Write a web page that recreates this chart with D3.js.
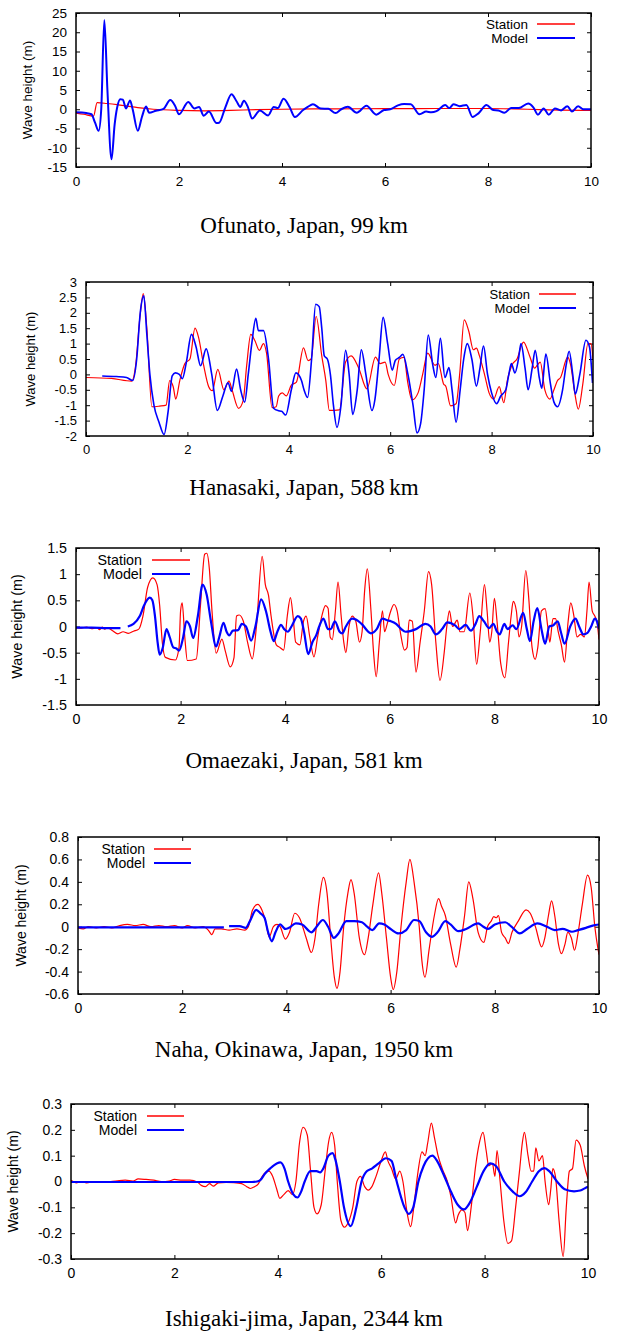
<!DOCTYPE html>
<html>
<head>
<meta charset="utf-8">
<script src="https://cdn.jsdelivr.net/npm/d3@7"></script>
<style>
  body { margin: 0; background: #fff; }
  svg text { font-family: "Liberation Sans", Arial, sans-serif; fill: #000; }
  .title { font-family: "Liberation Serif", "Times New Roman", serif; }
</style>
</head>
<body>
<svg id="chart" width="619" height="1341"></svg>
<script>
/* Tsunami wave heights: station records vs model, five tide gauges */

const titles = [
    'Ofunato, Japan, 99\u2009km',
    'Hanasaki, Japan, 588\u2009km',
    'Omaezaki, Japan, 581\u2009km',
    'Naha, Okinawa, Japan, 1950\u2009km',
    'Ishigaki-jima, Japan, 2344\u2009km'
];
const seriesNames = ['Station', 'Model'];
const xTicks = [0, 2, 4, 6, 8, 10];

const ofunatoTicks = [-15, -10, -5, 0, 5, 10, 15, 20, 25];
const hanasakiTicks = [-2, -1.5, -1, -0.5, 0, 0.5, 1, 1.5, 2, 2.5, 3];
const omaezakiTicks = [-1.5, -1, -0.5, 0, 0.5, 1, 1.5];
const nahaTicks = [-0.6, -0.4, -0.2, 0, 0.2, 0.4, 0.6, 0.8];
const ishigakiTicks = [-0.3, -0.2, -0.1, 0, 0.1, 0.2, 0.3];

// [time, wave height]; null = gap in record
const ofunatoStation = [[0,-1.0],[0.15,-1.3],[0.34,-1.8],[0.41,1.7],[0.6,1.5],[0.8,1.2],[1.0,0.8],[1.2,0.4],[1.5,0.0],[2.0,-0.3],[2.5,-0.4],[3.0,-0.3],[3.5,-0.1],[4.0,0.0],[5.0,0.1],[6.0,0.15],[7.0,0.2],[8.0,0.2],[8.5,0.1],[9.0,-0.1],[10,-0.3]];
const ofunatoModel = [[0,-0.8],[0.2,-1.0],[0.3,-1.3],[0.37,-3.5],[0.44,-5.6],[0.49,0],[0.55,23.2],[0.61,5],[0.69,-13.0],[0.75,-4],[0.8,0.5],[0.86,2.6],[0.91,2.5],[0.97,0.2],[1.05,2.3],[1.1,0],[1.2,-5.6],[1.28,-2],[1.36,0.7],[1.42,-0.9],[1.55,-0.4],[1.7,0.1],[1.83,2.4],[1.92,1.0],[2.0,-1.3],[2.18,1.9],[2.3,0.2],[2.39,0.6],[2.48,-1.7],[2.58,-0.6],[2.73,-3.6],[2.78,-3.5],[2.9,0.5],[3.02,3.9],[3.12,2.0],[3.19,0.6],[3.26,2.2],[3.34,0.5],[3.42,-2.4],[3.57,-0.3],[3.73,-1.6],[3.84,0.6],[3.92,0.3],[4.03,2.7],[4.15,0.5],[4.25,-2.0],[4.41,-0.2],[4.5,0.6],[4.6,1.3],[4.75,0.2],[4.9,0.1],[5.04,-1.0],[5.15,0],[5.28,0.65],[5.45,-0.9],[5.64,0.9],[5.83,-1.4],[5.98,-0.2],[6.1,0],[6.25,1.0],[6.37,1.35],[6.5,1.3],[6.67,-1.3],[6.8,-0.6],[6.9,-0.8],[7.0,-0.5],[7.17,1.1],[7.25,0.3],[7.33,1.3],[7.45,0.8],[7.58,1.1],[7.7,-2.0],[7.82,-1.0],[7.97,1.1],[8.1,-0.2],[8.2,-0.3],[8.32,-0.9],[8.45,0.3],[8.6,0.3],[8.78,1.5],[8.88,0.5],[8.97,-1.4],[9.08,0.2],[9.18,-1.4],[9.3,0.2],[9.42,-0.3],[9.54,0.8],[9.63,-0.6],[9.75,0.8],[9.85,0],[10,0]];

const hanasakiStation = [[0,-0.1],[0.5,-0.13],[0.9,-0.22],[0.98,0.3],[1.06,1.8],[1.13,2.62],[1.2,1.5],[1.3,-1.05],[1.45,-1.03],[1.58,-1.0],[1.65,-0.2],[1.72,-0.4],[1.77,-0.8],[1.85,-0.2],[1.95,0.35],[2.05,0.5],[2.15,1.5],[2.22,1.2],[2.32,0.3],[2.42,-0.4],[2.49,-0.53],[2.6,0.16],[2.72,-0.5],[2.82,-0.22],[2.88,-0.5],[3.01,-1.1],[3.1,-0.85],[3.17,0.3],[3.25,1.3],[3.33,1.1],[3.42,0.78],[3.5,1.0],[3.56,0.7],[3.67,-1.08],[3.75,-1.05],[3.8,-0.7],[3.87,-0.6],[3.95,-0.7],[4.05,-0.35],[4.15,-0.25],[4.29,0.86],[4.38,0.45],[4.44,0.5],[4.54,1.88],[4.65,0.6],[4.73,-0.2],[4.8,-1.17],[5.0,-1.15],[5.12,0.4],[5.23,0.6],[5.38,0.2],[5.54,-0.47],[5.71,0.56],[5.8,0.35],[5.9,0.4],[5.96,0.0],[6.08,-0.36],[6.18,0.5],[6.27,0.55],[6.35,-0.3],[6.43,-0.83],[6.55,-0.6],[6.64,0.0],[6.74,0.69],[6.88,0.3],[6.95,0.35],[7.05,-0.3],[7.1,-0.4],[7.19,-1.02],[7.3,-0.95],[7.37,0.0],[7.46,1.77],[7.55,1.4],[7.64,0.8],[7.7,0.85],[7.76,0.6],[7.86,0.0],[7.95,-0.6],[8.04,-0.8],[8.15,-0.4],[8.24,-0.92],[8.31,-0.2],[8.4,0.3],[8.5,0.5],[8.63,1.05],[8.75,0.6],[8.85,0.2],[8.9,0.3],[8.96,0.4],[9.05,-0.5],[9.15,-0.8],[9.23,-0.5],[9.3,-0.2],[9.36,-0.1],[9.5,0.56],[9.56,0.3],[9.64,-0.6],[9.71,-1.13],[9.8,-0.3],[9.9,1.0],[9.96,1.0],[10,0.5]];
const hanasakiModel = [[0.32,-0.05],[0.6,-0.07],[0.8,-0.1],[0.92,-0.2],[1.0,0.5],[1.07,2.0],[1.14,2.55],[1.2,1.3],[1.26,0],[1.34,-1.0],[1.44,-1.55],[1.54,-1.95],[1.62,-1.2],[1.7,-0.05],[1.76,0.05],[1.84,0.0],[1.9,-0.14],[1.98,0.4],[2.08,1.3],[2.17,0.9],[2.26,0.28],[2.37,0.83],[2.48,0.0],[2.59,-1.17],[2.7,-0.7],[2.8,-0.27],[2.87,-0.55],[2.97,0.17],[3.05,-0.5],[3.13,-0.9],[3.2,0.0],[3.27,1.0],[3.35,1.82],[3.4,1.42],[3.5,1.42],[3.6,0.5],[3.7,-1.1],[3.8,-1.18],[3.86,-1.2],[3.94,-1.32],[4.05,-0.5],[4.14,0.05],[4.25,-0.2],[4.3,-0.5],[4.37,-0.75],[4.45,0.5],[4.53,2.28],[4.6,2.2],[4.65,1.5],[4.7,0.6],[4.76,0.5],[4.82,0.0],[4.88,-1.0],[4.95,-1.72],[5.03,-1.0],[5.12,0.78],[5.19,0.0],[5.26,-1.3],[5.35,-0.5],[5.43,0.8],[5.52,0.0],[5.64,-1.17],[5.7,-0.8],[5.78,0.5],[5.86,1.85],[5.95,1.0],[6.04,0.14],[6.1,0.45],[6.18,0.55],[6.25,0.65],[6.35,0.0],[6.45,-1.0],[6.53,-1.9],[6.6,-1.6],[6.67,-0.5],[6.75,1.28],[6.84,0.3],[6.9,-0.1],[6.99,1.17],[7.08,-0.1],[7.16,0.22],[7.22,-0.5],[7.3,-1.55],[7.38,-0.5],[7.45,0.5],[7.52,1.0],[7.61,0.5],[7.7,-0.38],[7.77,0.2],[7.84,0.92],[7.92,0.0],[8.0,-0.6],[8.1,-0.95],[8.18,-0.7],[8.28,-0.5],[8.34,0.0],[8.39,0.35],[8.46,0.05],[8.53,0.5],[8.58,1.0],[8.66,0.2],[8.72,-0.5],[8.8,0.2],[8.86,0.78],[8.94,-0.1],[8.99,-0.45],[9.07,0.66],[9.16,-0.3],[9.23,-0.9],[9.3,-1.05],[9.4,-0.5],[9.47,0.3],[9.53,0.75],[9.6,0.0],[9.65,-0.64],[9.74,0.0],[9.86,1.11],[9.93,0.9],[9.99,-0.28]];

const omaezakiStation = [[0,-0.02],[0.1,-0.03],[0.2,-0.01],[0.3,-0.04],[0.4,-0.02],[0.45,-0.06],[0.5,-0.01],[0.55,-0.05],[0.6,-0.02],[0.7,-0.08],[0.8,-0.14],[0.9,-0.1],[1.0,-0.13],[1.1,-0.09],[1.2,-0.05],[1.28,0.2],[1.37,0.75],[1.47,0.93],[1.55,0.8],[1.6,0.4],[1.65,-0.3],[1.71,-0.59],[1.9,-0.64],[1.97,-0.4],[2.0,0.3],[2.03,0.45],[2.08,-0.2],[2.13,-0.65],[2.3,-0.62],[2.38,0.4],[2.46,1.38],[2.5,1.4],[2.55,1.1],[2.6,0.3],[2.68,-0.51],[2.79,-0.24],[2.85,-0.45],[2.95,-0.77],[3.02,-0.6],[3.07,0.2],[3.12,0.22],[3.2,0.1],[3.28,-0.3],[3.37,-0.62],[3.45,0.0],[3.56,1.34],[3.62,0.8],[3.68,0.6],[3.73,0.2],[3.83,-0.35],[3.9,-0.4],[3.97,-0.45],[4.04,0.2],[4.1,0.55],[4.15,0.2],[4.2,-0.3],[4.28,-0.35],[4.35,0.1],[4.4,0.2],[4.47,-0.2],[4.55,-0.58],[4.62,-0.2],[4.7,0.2],[4.77,0.4],[4.82,0.35],[4.86,-0.2],[4.9,-0.25],[4.96,0.3],[5.01,0.85],[5.07,0.2],[5.12,-0.3],[5.16,-0.5],[5.22,0.0],[5.28,0.2],[5.35,0.1],[5.42,-0.3],[5.47,-0.1],[5.52,0.7],[5.57,1.1],[5.64,0.3],[5.69,-0.5],[5.74,-0.96],[5.8,-0.3],[5.86,0.3],[5.9,-0.1],[5.95,0.05],[6.02,0.3],[6.08,0.42],[6.14,0.3],[6.2,-0.1],[6.28,-0.45],[6.33,-0.4],[6.37,0.12],[6.43,0.1],[6.5,-0.87],[6.58,-0.3],[6.66,0.3],[6.74,1.05],[6.8,0.8],[6.88,-0.3],[6.96,-1.03],[7.04,-0.5],[7.09,0.0],[7.14,0.3],[7.2,0.0],[7.29,0.12],[7.34,-0.1],[7.42,-0.1],[7.53,0.64],[7.59,0.2],[7.66,-0.72],[7.73,-0.1],[7.81,0.8],[7.86,0.3],[7.91,-0.3],[7.95,-0.1],[8.0,0.54],[8.05,0.1],[8.12,-0.7],[8.2,-0.98],[8.27,-0.3],[8.32,0.2],[8.36,0.48],[8.42,0.3],[8.47,-0.2],[8.52,0.0],[8.6,1.07],[8.66,0.5],[8.72,-0.4],[8.78,-0.63],[8.83,-0.4],[8.9,0.3],[8.97,0.34],[9.02,0.0],[9.06,-0.3],[9.12,0.15],[9.17,0.15],[9.22,-0.1],[9.28,-0.35],[9.34,-0.68],[9.41,0.1],[9.46,0.45],[9.52,0.2],[9.58,-0.2],[9.65,-0.15],[9.72,-0.2],[9.77,0.3],[9.81,0.85],[9.87,0.3],[9.92,0.2],[9.96,0.1],[10,-0.25]];
const omaezakiModel = [[0,-0.02],[0.3,-0.02],[0.6,-0.03],[0.85,-0.03],[0.9,null],[0.99,0.0],[1.1,0.05],[1.22,0.2],[1.3,0.4],[1.41,0.55],[1.46,0.5],[1.51,0.2],[1.56,-0.3],[1.6,-0.54],[1.66,-0.4],[1.73,-0.05],[1.79,-0.2],[1.86,-0.4],[1.92,-0.42],[1.97,-0.46],[2.05,-0.2],[2.11,0.1],[2.18,0.0],[2.24,-0.22],[2.33,0.2],[2.42,0.8],[2.5,0.6],[2.58,0.1],[2.68,-0.38],[2.74,-0.2],[2.82,0.07],[2.88,-0.1],[2.93,-0.17],[3.0,-0.08],[3.1,-0.07],[3.17,0.05],[3.25,0.0],[3.35,-0.27],[3.43,0.0],[3.54,0.52],[3.63,0.3],[3.72,-0.1],[3.78,-0.28],[3.85,-0.1],[3.92,0.03],[3.98,-0.05],[4.05,-0.1],[4.12,0.0],[4.24,0.2],[4.3,0.15],[4.36,-0.1],[4.44,-0.53],[4.52,-0.3],[4.6,-0.15],[4.65,0.0],[4.73,0.15],[4.82,-0.05],[4.87,-0.05],[4.95,0.1],[5.04,-0.1],[5.09,-0.13],[5.16,0.0],[5.28,0.15],[5.36,0.13],[5.46,0.05],[5.64,-0.13],[5.75,-0.05],[5.86,0.15],[5.95,0.12],[6.02,0.1],[6.12,0.05],[6.22,-0.05],[6.3,-0.1],[6.5,-0.05],[6.68,0.05],[6.78,0.0],[6.88,-0.15],[7.0,-0.05],[7.1,0.08],[7.25,0.02],[7.33,-0.05],[7.45,0.03],[7.55,-0.08],[7.64,0.05],[7.71,0.2],[7.8,0.1],[7.9,-0.03],[7.98,0.05],[8.05,-0.1],[8.1,-0.15],[8.19,0.05],[8.25,-0.05],[8.35,0.02],[8.42,-0.05],[8.55,0.26],[8.62,-0.05],[8.68,-0.28],[8.75,0.1],[8.82,0.35],[8.9,-0.05],[8.97,-0.33],[9.05,0.0],[9.12,0.02],[9.21,0.1],[9.27,-0.1],[9.34,-0.33],[9.45,0.0],[9.55,0.15],[9.62,0.0],[9.7,-0.15],[9.78,-0.12],[9.85,0.0],[9.92,0.15],[9.96,0.1],[10,-0.05]];

const nahaStation = [[0,-0.01],[0.1,-0.02],[0.2,0.0],[0.35,-0.01],[0.5,0.0],[0.65,-0.01],[0.8,0.01],[0.95,0.02],[1.1,0.01],[1.25,0.02],[1.4,0.0],[1.55,0.01],[1.7,0.0],[1.85,0.01],[2.0,-0.01],[2.1,0.01],[2.25,-0.01],[2.4,0.0],[2.5,-0.03],[2.57,-0.07],[2.63,-0.02],[2.75,-0.02],[2.9,-0.03],[3.05,-0.02],[3.2,-0.03],[3.27,0.0],[3.35,0.15],[3.45,0.2],[3.53,0.15],[3.6,0.05],[3.67,-0.09],[3.75,0.0],[3.82,0.02],[3.88,0.0],[3.98,-0.11],[4.06,-0.05],[4.16,0.12],[4.25,0.08],[4.38,-0.1],[4.48,-0.23],[4.55,-0.1],[4.62,0.2],[4.71,0.44],[4.78,0.3],[4.85,-0.1],[4.92,-0.45],[4.97,-0.55],[5.03,-0.4],[5.1,0.0],[5.18,0.3],[5.24,0.42],[5.3,0.3],[5.4,-0.1],[5.5,-0.25],[5.57,-0.1],[5.66,0.2],[5.77,0.48],[5.83,0.3],[5.92,-0.1],[6.0,-0.45],[6.05,-0.56],[6.12,-0.4],[6.2,0.0],[6.3,0.4],[6.37,0.6],[6.45,0.4],[6.55,0.0],[6.6,-0.3],[6.66,-0.45],[6.74,-0.2],[6.84,0.1],[6.92,0.25],[6.98,0.18],[7.05,0.1],[7.15,-0.15],[7.26,-0.36],[7.33,-0.2],[7.42,0.1],[7.5,0.4],[7.58,0.25],[7.68,-0.05],[7.79,-0.14],[7.86,0.0],[7.93,0.05],[7.98,0.09],[8.03,0.08],[8.07,0.1],[8.13,-0.05],[8.2,-0.1],[8.26,-0.15],[8.33,-0.05],[8.45,0.05],[8.6,0.15],[8.68,0.12],[8.78,0.0],[8.9,-0.18],[8.96,-0.1],[9.03,0.1],[9.09,0.23],[9.15,0.1],[9.22,-0.15],[9.28,-0.24],[9.35,-0.15],[9.4,-0.05],[9.47,-0.1],[9.53,-0.21],[9.6,-0.05],[9.68,0.2],[9.78,0.46],[9.85,0.35],[9.92,0.0],[10,-0.25]];
const nahaModel = [[0,-0.005],[1.0,-0.005],[2.0,-0.005],[2.8,-0.005],[2.85,null],[2.9,0.005],[3.1,0.005],[3.22,-0.01],[3.3,0.05],[3.42,0.15],[3.5,0.12],[3.58,0.08],[3.65,-0.05],[3.72,-0.13],[3.79,-0.05],[3.88,0.02],[3.98,-0.02],[4.05,-0.01],[4.18,0.03],[4.3,0.02],[4.48,-0.05],[4.58,0.0],[4.7,0.06],[4.8,0.0],[4.91,-0.1],[5.0,-0.06],[5.15,0.05],[5.3,0.05],[5.45,0.04],[5.55,0.0],[5.65,-0.03],[5.78,0.03],[5.88,0.02],[6.0,-0.02],[6.15,-0.06],[6.3,-0.03],[6.45,0.06],[6.55,0.05],[6.68,-0.05],[6.79,-0.09],[6.9,-0.05],[7.05,0.05],[7.15,0.02],[7.3,-0.04],[7.45,-0.02],[7.68,0.03],[7.78,0.0],[7.87,-0.02],[8.0,0.02],[8.2,0.04],[8.32,0.0],[8.48,-0.06],[8.62,-0.02],[8.82,0.03],[9.0,0.0],[9.15,-0.03],[9.3,-0.02],[9.48,-0.045],[9.6,-0.03],[9.75,-0.01],[9.88,0.01],[10,0.02]];

const ishigakiStation = [[0,0.005],[0.1,-0.005],[0.2,0.0],[0.3,-0.005],[0.45,0.0],[0.6,-0.003],[0.75,0.0],[0.9,0.003],[1.05,0.005],[1.2,0.002],[1.3,0.01],[1.45,0.008],[1.6,0.005],[1.75,0.0],[1.9,0.002],[2.0,0.008],[2.15,0.005],[2.3,0.005],[2.45,-0.003],[2.52,-0.015],[2.6,-0.02],[2.68,-0.008],[2.75,-0.018],[2.85,-0.005],[3.0,-0.003],[3.15,-0.004],[3.3,-0.008],[3.4,-0.02],[3.47,-0.027],[3.55,-0.02],[3.62,-0.01],[3.7,0.02],[3.77,0.036],[3.83,0.04],[3.9,0.02],[3.98,-0.03],[4.04,-0.065],[4.12,-0.05],[4.2,-0.035],[4.28,-0.05],[4.35,0.0],[4.42,0.15],[4.49,0.21],[4.57,0.18],[4.63,0.05],[4.7,-0.1],[4.76,-0.125],[4.84,-0.09],[4.92,0.05],[4.98,0.15],[5.04,0.19],[5.1,0.14],[5.15,0.0],[5.22,-0.15],[5.29,-0.177],[5.36,-0.16],[5.45,-0.1],[5.53,0.0],[5.6,0.02],[5.68,-0.02],[5.75,-0.033],[5.82,-0.02],[5.9,0.02],[6.0,0.08],[6.08,0.115],[6.13,0.08],[6.2,0.05],[6.28,0.01],[6.36,0.04],[6.42,0.0],[6.5,-0.12],[6.57,-0.175],[6.63,-0.1],[6.7,0.02],[6.79,0.115],[6.85,0.1],[6.9,0.15],[6.97,0.226],[7.03,0.17],[7.1,0.1],[7.18,0.05],[7.28,0.0],[7.35,-0.06],[7.44,-0.16],[7.49,-0.13],[7.56,-0.11],[7.62,-0.12],[7.67,-0.19],[7.74,-0.1],[7.82,0.05],[7.88,0.13],[7.97,0.19],[8.03,0.12],[8.08,0.06],[8.15,0.07],[8.2,0.02],[8.24,0.12],[8.3,0.0],[8.37,-0.15],[8.45,-0.24],[8.52,-0.23],[8.6,-0.1],[8.68,0.05],[8.73,0.15],[8.77,0.19],[8.84,0.1],[8.9,0.04],[8.95,0.04],[8.99,0.13],[9.05,0.08],[9.12,0.1],[9.17,0.0],[9.24,-0.09],[9.28,-0.03],[9.32,0.05],[9.37,0.02],[9.44,-0.15],[9.52,-0.29],[9.58,-0.1],[9.64,0.04],[9.7,0.05],[9.77,0.16],[9.85,0.14],[9.93,0.06],[10,0.01]];
const ishigakiModel = [[0,-0.002],[1.0,-0.002],[2.0,-0.002],[3.0,-0.002],[3.5,-0.002],[3.6,0.0],[3.66,0.005],[3.75,0.03],[3.85,0.05],[3.98,0.07],[4.05,0.074],[4.13,0.05],[4.2,0.0],[4.3,-0.05],[4.38,-0.062],[4.45,-0.04],[4.52,0.0],[4.63,0.04],[4.75,0.04],[4.82,0.035],[4.88,0.05],[4.98,0.1],[5.06,0.11],[5.12,0.08],[5.2,0.0],[5.28,-0.1],[5.41,-0.173],[5.52,-0.1],[5.62,0.0],[5.72,0.04],[5.82,0.05],[5.95,0.07],[6.09,0.09],[6.2,0.08],[6.3,0.0],[6.45,-0.1],[6.53,-0.125],[6.62,-0.1],[6.72,0.0],[6.82,0.06],[6.99,0.1],[7.08,0.08],[7.2,0.03],[7.35,-0.04],[7.48,-0.09],[7.6,-0.108],[7.72,-0.08],[7.85,-0.02],[7.98,0.04],[8.11,0.07],[8.22,0.06],[8.38,0.0],[8.55,-0.04],[8.68,-0.057],[8.8,-0.04],[8.92,0.0],[9.05,0.04],[9.16,0.052],[9.25,0.04],[9.4,0.0],[9.55,-0.03],[9.73,-0.038],[9.85,-0.035],[9.95,-0.025],[10,-0.02]];

// === Layout (pixel boxes, fonts, legend spots) ===
const panels = [
    { station: ofunatoStation, model: ofunatoModel, ticks: ofunatoTicks,
      box: { left: 76, right: 591, top: 13, bottom: 167 }, font: 13.5, labelX: 27,
      legend: { textX: 528, x1: 537, x2: 575, y: 24 }, modelWidth: 2, titleY: 233 },
    { station: hanasakiStation, model: hanasakiModel, ticks: hanasakiTicks,
      box: { left: 86, right: 593, top: 282, bottom: 436 }, font: 13, labelX: 30,
      legend: { textX: 530, x1: 539, x2: 576, y: 294 }, modelWidth: 1.6, titleY: 495 },
    { station: omaezakiStation, model: omaezakiModel, ticks: omaezakiTicks,
      box: { left: 76, right: 599, top: 548, bottom: 705 }, font: 14.3, labelX: 17,
      legend: { textX: 142, x1: 152, x2: 190, y: 560 }, modelWidth: 2.2, titleY: 768 },
    { station: nahaStation, model: nahaModel, ticks: nahaTicks,
      box: { left: 78, right: 599, top: 837, bottom: 994 }, font: 14, labelX: 21,
      legend: { textX: 145, x1: 154, x2: 191, y: 849 }, modelWidth: 2.2, titleY: 1057 },
    { station: ishigakiStation, model: ishigakiModel, ticks: ishigakiTicks,
      box: { left: 71, right: 588, top: 1104, bottom: 1259 }, font: 14, labelX: 13,
      legend: { textX: 137, x1: 147, x2: 184, y: 1116 }, modelWidth: 2.2, titleY: 1326 }
];

const colors = { Station: '#ff0000', Model: '#0000ff' };
const svg = d3.select('#chart');
svg.append('rect').attr('width', 619).attr('height', 1341).attr('fill', '#fff');
const defs = svg.append('defs');

const fmt = d => String(+d.toFixed(2));

function drawPanel(p, i) {
    const b = p.box;
    const x = d3.scaleLinear().domain([0, 10]).range([b.left, b.right]);
    const y = d3.scaleLinear().domain(d3.extent(p.ticks)).range([b.bottom, b.top]);
    const g = svg.append('g').attr('class', 'panel');

    defs.append('clipPath').attr('id', 'clip' + i)
        .append('rect')
        .attr('x', b.left).attr('y', b.top)
        .attr('width', b.right - b.left).attr('height', b.bottom - b.top);

    // Axes, gnuplot style: ticks inward on all four sides
    const axes = [
        { axis: d3.axisLeft(y).tickValues(p.ticks).tickFormat(fmt), tr: `translate(${b.left},0)` },
        { axis: d3.axisRight(y).tickValues(p.ticks).tickFormat(''), tr: `translate(${b.right},0)` },
        { axis: d3.axisBottom(x).tickValues(xTicks).tickFormat(fmt), tr: `translate(0,${b.bottom})` },
        { axis: d3.axisTop(x).tickValues(xTicks).tickFormat(''), tr: `translate(0,${b.top})` }
    ];
    axes.forEach(a => {
        const ag = g.append('g')
            .attr('transform', a.tr)
            .call(a.axis.tickSizeInner(-4).tickSizeOuter(0).tickPadding(9));
        ag.select('.domain').remove();
        ag.selectAll('.tick line').attr('stroke', '#000').attr('stroke-width', 1);
        ag.selectAll('text').style('font-size', p.font + 'px').attr('fill', '#000');
    });

    // Series
    const line = d3.line()
        .defined(d => d[1] != null)
        .x(d => x(d[0]))
        .y(d => y(d[1]))
        .curve(d3.curveMonotoneX);

    const plot = g.append('g').attr('clip-path', `url(#clip${i})`);
    plot.append('path')
        .datum(p.station)
        .attr('fill', 'none')
        .attr('stroke', colors.Station)
        .attr('stroke-width', 1.2)
        .attr('stroke-linejoin', 'round')
        .attr('d', line);
    plot.append('path')
        .datum(p.model)
        .attr('fill', 'none')
        .attr('stroke', colors.Model)
        .attr('stroke-width', p.modelWidth)
        .attr('stroke-linejoin', 'round')
        .attr('d', line);

    // Frame
    g.append('rect')
        .attr('x', b.left).attr('y', b.top)
        .attr('width', b.right - b.left).attr('height', b.bottom - b.top)
        .attr('fill', 'none')
        .attr('stroke', '#000')
        .attr('stroke-width', 1.5);

    // Legend
    seriesNames.forEach((name, k) => {
        const ly = p.legend.y + k * 14;
        g.append('text')
            .attr('x', p.legend.textX)
            .attr('y', ly)
            .attr('dy', '0.35em')
            .attr('text-anchor', 'end')
            .style('font-size', p.font + 'px')
            .text(name);
        g.append('line')
            .attr('x1', p.legend.x1).attr('x2', p.legend.x2)
            .attr('y1', ly).attr('y2', ly)
            .attr('stroke', colors[name])
            .attr('stroke-width', name === 'Model' ? 2 : 1.5);
    });

    // Y label
    g.append('text')
        .attr('transform', `translate(${p.labelX},${(b.top + b.bottom) / 2}) rotate(-90)`)
        .attr('text-anchor', 'middle')
        .attr('dy', '0.35em')
        .style('font-size', p.font + 'px')
        .text('Wave height (m)');

    // Caption
    g.append('text')
        .attr('class', 'title')
        .attr('x', 304)
        .attr('y', p.titleY)
        .attr('text-anchor', 'middle')
        .style('font-size', '23px')
        .text(titles[i]);
}

panels.forEach(drawPanel);
</script>
</body>
</html>
